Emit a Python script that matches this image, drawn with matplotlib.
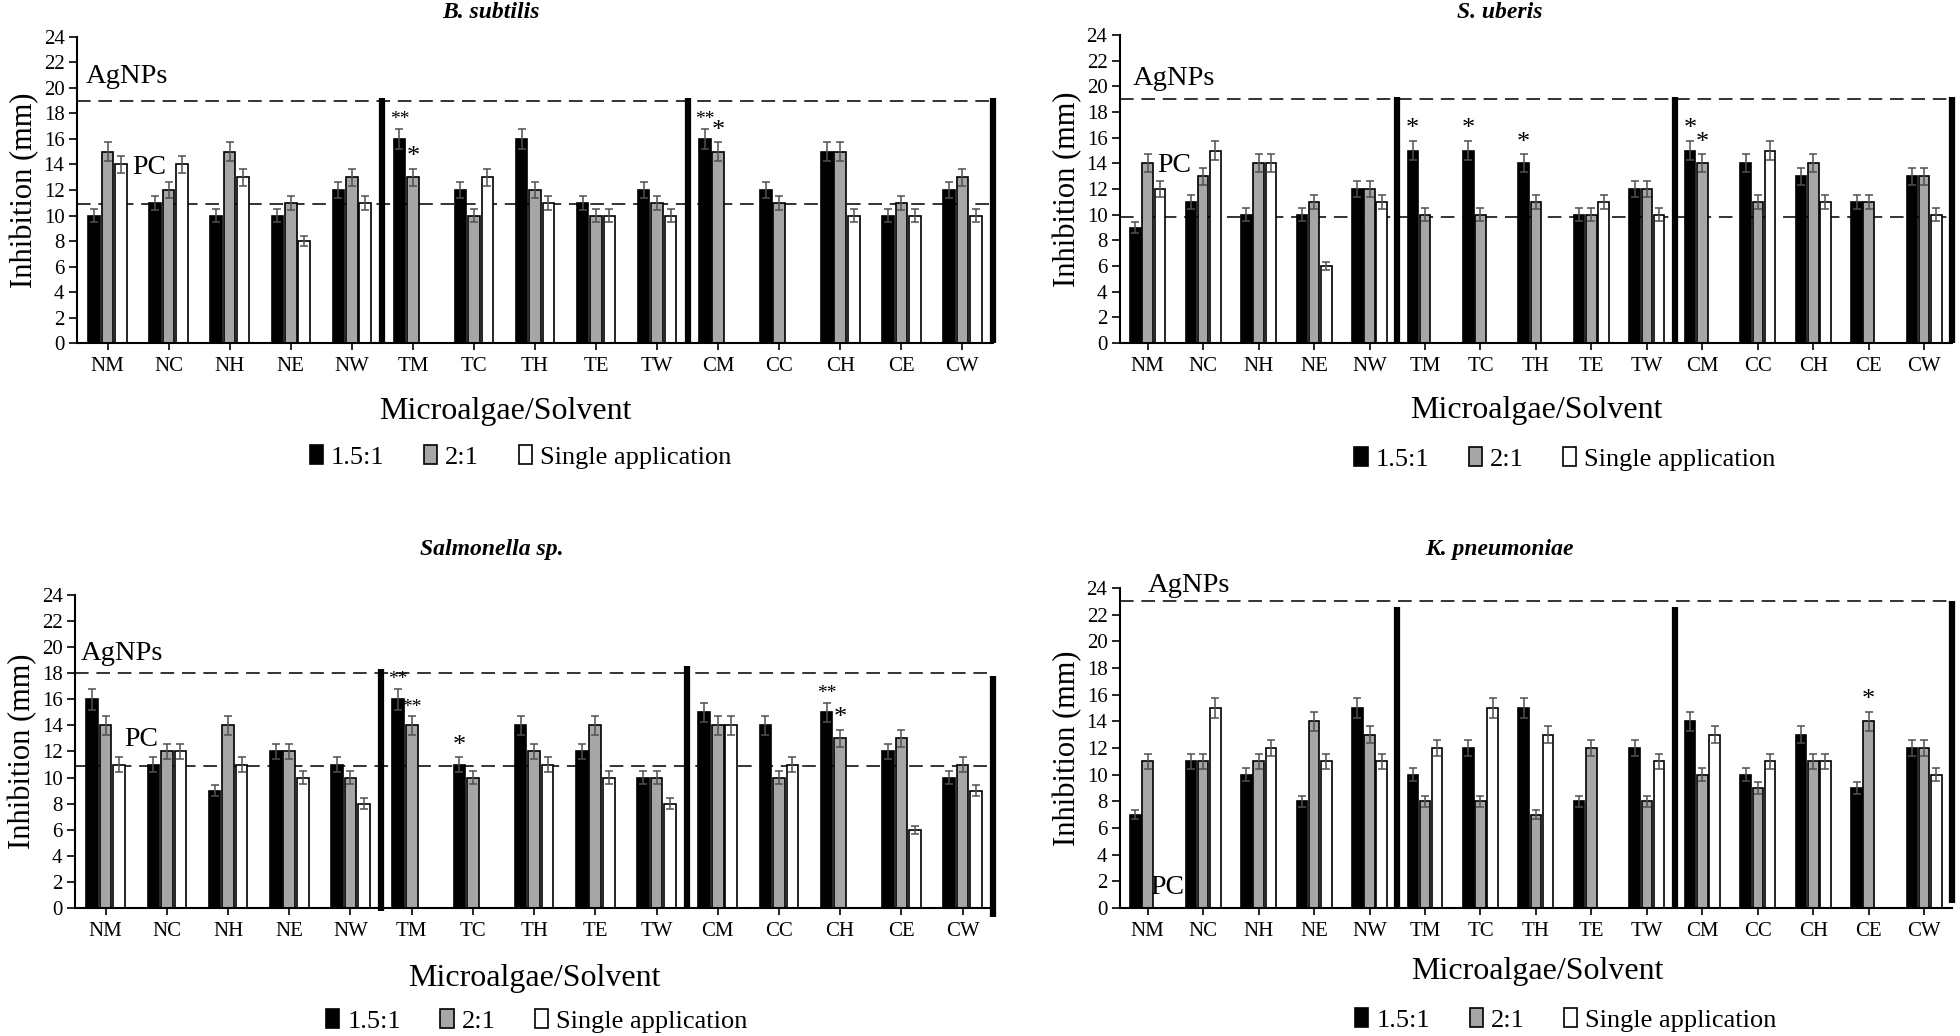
import numpy as np
import matplotlib
matplotlib.use('Agg')
import matplotlib.pyplot as plt
from matplotlib.patches import Patch

plt.rcParams['font.family'] = ['Liberation Serif', 'DejaVu Serif']

nan = np.nan

# categories (microalgae / solvent)
categories = ['NM', 'NC', 'NH', 'NE', 'NW', 'TM', 'TC', 'TH', 'TE', 'TW',
              'CM', 'CC', 'CH', 'CE', 'CW']
series_names = ['1.5:1', '2:1', 'Single application']

# inhibition zones (mm)
bsub_15 = [10, 11, 10, 10, 12, 16, 12, 16, 11, 12, 16, 12, 15, 10, 12]
bsub_21 = [15, 12, 15, 11, 13, 13, 10, 12, 10, 11, 15, 11, 15, 11, 13]
bsub_single = [14, 14, 13, 8, 11, nan, 13, 11, 10, 10, nan, nan, 10, 10, 10]

suber_15 = [9, 11, 10, 10, 12, 15, 15, 14, 10, 12, 15, 14, 13, 11, 13]
suber_21 = [14, 13, 14, 11, 12, 10, 10, 11, 10, 12, 14, 11, 14, 11, 13]
suber_single = [12, 15, 14, 6, 11, nan, nan, nan, 11, 10, nan, 15, 11, nan, 10]

salm_15 = [16, 11, 9, 12, 11, 16, 11, 14, 12, 10, 15, 14, 15, 12, 10]
salm_21 = [14, 12, 14, 12, 10, 14, 10, 12, 14, 10, 14, 10, 13, 13, 11]
salm_single = [11, 12, 11, 10, 8, nan, nan, 11, 10, 8, 14, 11, nan, 6, 9]

kpn_15 = [7, 11, 10, 8, 15, 10, 12, 15, 8, 12, 14, 10, 13, 9, 12]
kpn_21 = [11, 11, 11, 14, 13, 8, 8, 7, 12, 8, 10, 9, 11, 14, 12]
kpn_single = [nan, 15, 12, 11, 11, 12, 15, 13, nan, 11, 13, 11, 11, nan, 10]

titles = ['B. subtilis', 'S. uberis', 'Salmonella sp.', 'K. pneumoniae']
agnps_ref = [19, 19, 18, 23]
pc_ref = [10.9, 9.8, 10.9, 0]

# thick separators between microalgae groups
sep_x = [4.5, 9.5, 14.5]
sep_bottom = [[0, 0, 0], [0, 0, 0], [-0.2, 0, -0.7], [0, 0, 0.4]]
sep_top = [[19.2, 19.2, 19.2], [19.2, 19.2, 19.2], [18.3, 18.55, 17.8], [22.6, 22.6, 23.0]]

# significance marks: (category, series index, mark)
stars = [
    [('TM', 0, '**'), ('TM', 1, '*'), ('CM', 0, '**'), ('CM', 1, '*')],
    [('TM', 0, '*'), ('TC', 0, '*'), ('TH', 0, '*'), ('CM', 0, '*'), ('CM', 1, '*')],
    [('TM', 0, '**'), ('TM', 1, '**'), ('TC', 0, '*'), ('CH', 0, '**'), ('CH', 1, '*')],
    [('CE', 1, '*')],
]

panels = [
    [bsub_15, bsub_21, bsub_single],
    [suber_15, suber_21, suber_single],
    [salm_15, salm_21, salm_single],
    [kpn_15, kpn_21, kpn_single],
]

# layout (figure fractions / data positions)
W, H = 1960, 1036
axes_rects = [[0.0393, 0.6689, 0.4673, 0.2954],
              [0.5714, 0.6689, 0.4245, 0.2973],
              [0.0383, 0.1236, 0.4684, 0.3021],
              [0.5714, 0.1236, 0.4245, 0.3089]]
title_px = [(491, 12), (1500, 12), (492, 550), (1499, 550)]
agnps_txt = [(-0.35, 20.9), (-0.27, 20.6), (-0.4, 19.5), (0.0, 24.2)]
pc_txt = [(0.41, 13.8), (0.18, 13.8), (0.3, 12.9), (0.04, 1.5)]
xlabel_pos = [(0.468, -0.225), (0.50, -0.22), (0.50, -0.224), (0.502, -0.2)]
legend_pos = [(0.484, -0.373), (0.535, -0.377), (0.503, -0.361), (0.536, -0.35)]

colors = ['black', '#a6a6a6', 'white']
offsets = [-0.22, 0.0, 0.22]
bar_w = 0.19
err_pct = 0.05  # 5 % error bars

fig = plt.figure(figsize=(W / 100, H / 100), dpi=100)
x = np.arange(len(categories))

for p, data in enumerate(panels):
    ax = fig.add_axes(axes_rects[p])
    for i, vals in enumerate(data):
        vals = np.array(vals, dtype=float)
        ok = ~np.isnan(vals)
        ax.bar(x[ok] + offsets[i], vals[ok], bar_w, color=colors[i],
               edgecolor='black', linewidth=1.2, zorder=2,
               yerr=err_pct * vals[ok],
               error_kw=dict(ecolor='#505050', elinewidth=1.1, capsize=3, capthick=1.1, zorder=3))

    # reference lines
    ax.axhline(agnps_ref[p], color='#333333', lw=1.4, ls=(0, (7, 4)), zorder=1)
    ax.axhline(pc_ref[p], color='#333333', lw=1.4, ls=(0, (7, 4)), zorder=1)
    ax.text(agnps_txt[p][0], agnps_txt[p][1], 'AgNPs', fontsize=20.5, ha='left', va='center', zorder=5)
    ax.text(pc_txt[p][0], pc_txt[p][1], 'PC', fontsize=20, ha='left', va='center', zorder=5)

    for k, sx in enumerate(sep_x):
        ax.vlines(sx, sep_bottom[p][k], sep_top[p][k], color='black', lw=4.5,
                  zorder=4, clip_on=False)

    for cat, si, mark in stars[p]:
        ci = categories.index(cat)
        v = data[si][ci]
        fs = 14 if mark == '**' else 19
        ax.text(ci + offsets[si], v * (1 + err_pct) + 0.05, mark, fontsize=fs,
                ha='center', va='bottom', zorder=5)

    ax.set_xlim(-0.5, 14.5)
    ax.set_ylim(0, 24)
    ax.set_yticks(np.arange(0, 25, 2))
    ax.set_xticks(x)
    ax.set_xticklabels(categories, fontsize=15)
    ax.tick_params(axis='y', labelsize=15, length=6, width=1.2, direction='out', pad=3)
    ax.tick_params(axis='x', length=5, width=1.2, direction='out', pad=5)
    for s in ['top', 'right']:
        ax.spines[s].set_visible(False)
    for s in ['left', 'bottom']:
        ax.spines[s].set_linewidth(1.5)

    ax.set_ylabel('Inhibition (mm)', fontsize=22, labelpad=3)
    ax.set_xlabel('Microalgae/Solvent', fontsize=23)
    ax.xaxis.set_label_coords(*xlabel_pos[p])
    ax.xaxis.label.set_va('center')

    handles = [Patch(facecolor=c, edgecolor='black', linewidth=1.2) for c in colors]
    ax.legend(handles, series_names, loc='center', bbox_to_anchor=legend_pos[p],
              ncol=3, frameon=False, fontsize=19, handlelength=0.5, handleheight=0.7,
              handletextpad=0.3, columnspacing=1.5)

    fig.text(title_px[p][0] / W, 1 - title_px[p][1] / H, titles[p], fontsize=17,
             fontweight='bold', fontstyle='italic', ha='center', va='center')

fig.savefig('out.png', dpi=100)
